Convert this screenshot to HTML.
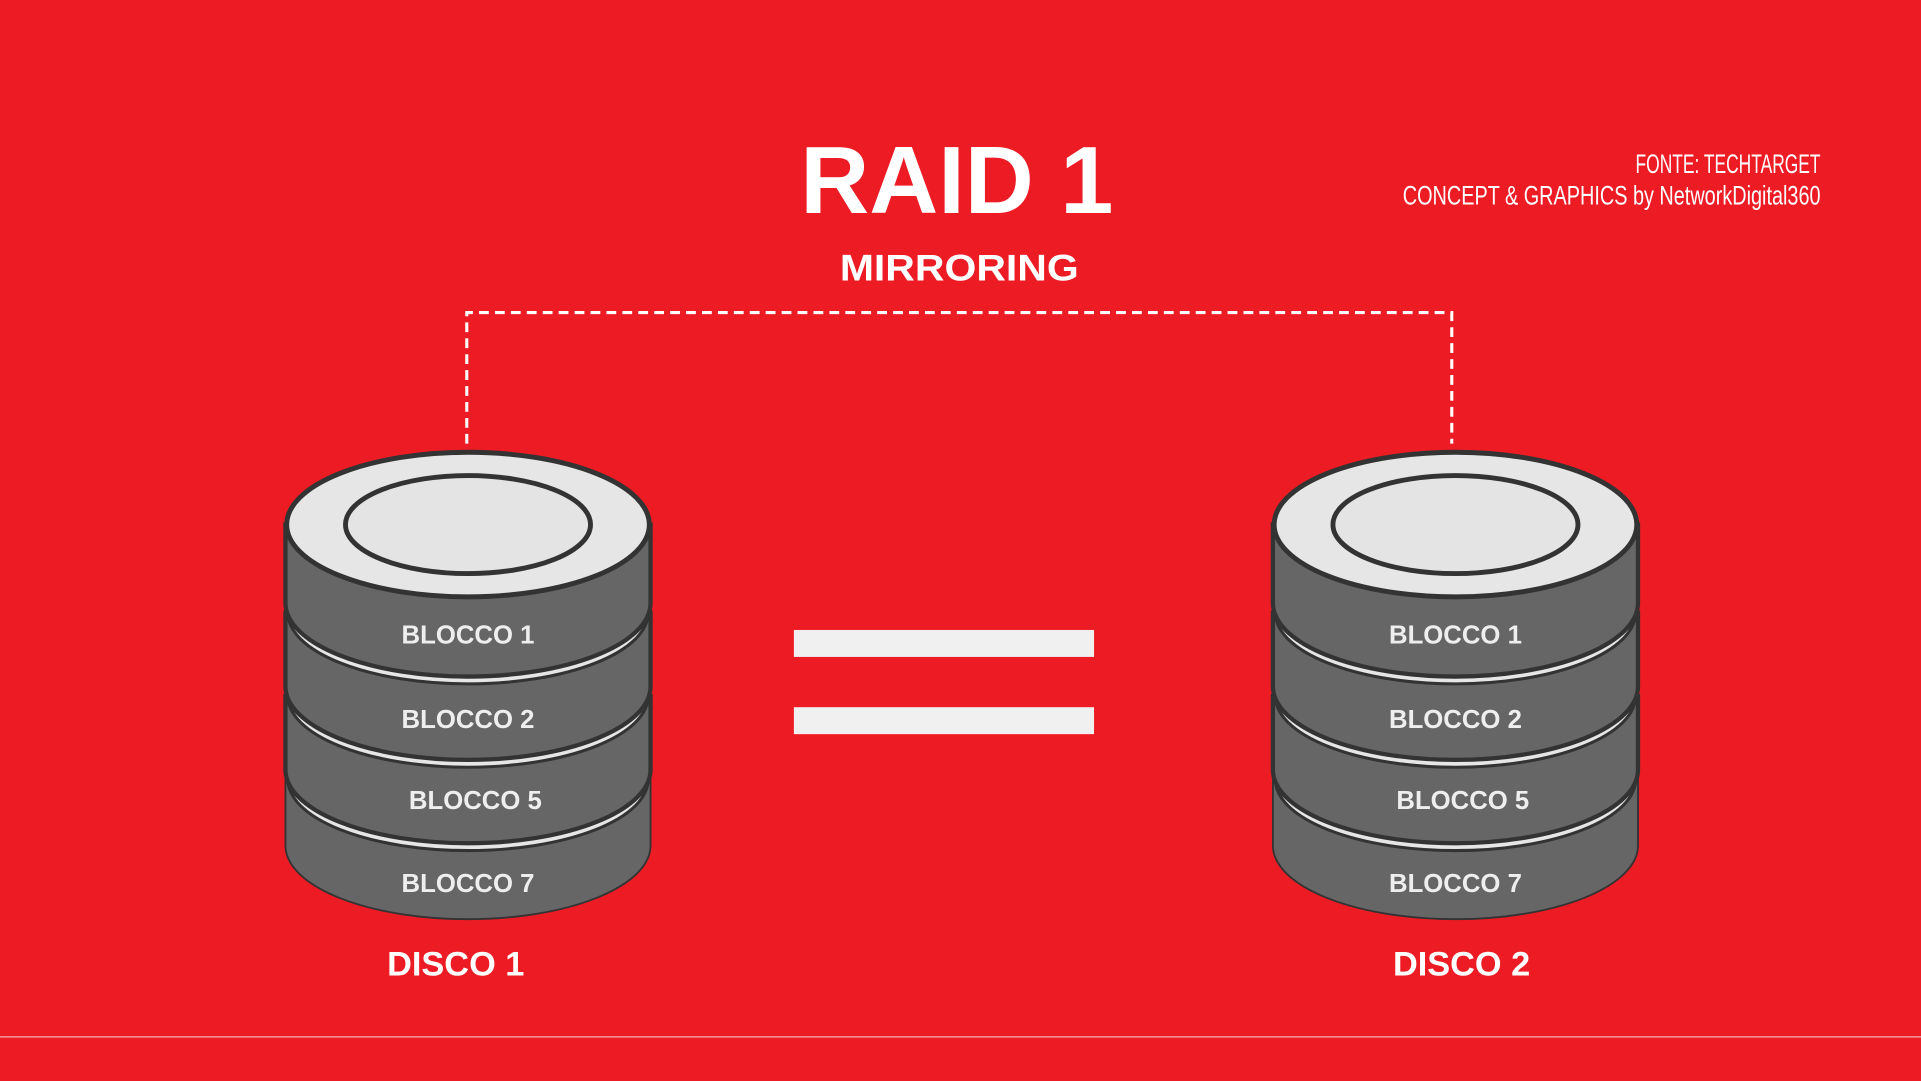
<!DOCTYPE html>
<html><head><meta charset="utf-8"><style>
html,body{margin:0;padding:0;background:#ed1c24;overflow:hidden}
svg{display:block}
text{font-family:"Liberation Sans",Arial,sans-serif}
</style></head><body>
<svg width="1921" height="1081" viewBox="0 0 1568 882" preserveAspectRatio="none" xmlns="http://www.w3.org/2000/svg">
<rect width="1568" height="882" fill="#ed1c24"/>
<line x1="0" y1="846" x2="1568" y2="846" stroke="#f4b0b0" stroke-width="1"/>
<text x="781" y="174" text-anchor="middle" font-size="78" font-weight="bold" fill="#fff">RAID 1</text>
<text x="783" y="229" text-anchor="middle" font-size="30" font-weight="bold" fill="#fff" textLength="195" lengthAdjust="spacingAndGlyphs">MIRRORING</text>
<text x="1486" y="141" text-anchor="end" font-size="22" fill="#fff" textLength="151" lengthAdjust="spacingAndGlyphs">FONTE: TECHTARGET</text>
<text x="1486" y="167" text-anchor="end" font-size="22" fill="#fff" textLength="341" lengthAdjust="spacingAndGlyphs">CONCEPT &amp; GRAPHICS by NetworkDigital360</text>
<path d="M381 362 V255 H1185 V362" fill="none" stroke="#fff" stroke-width="2.5" stroke-dasharray="8,5"/>
<rect x="648" y="514" width="245" height="22" fill="#f0f0f0"/>
<rect x="648" y="577" width="245" height="22" fill="#f0f0f0"/>
<g id="d1">
<path d="M233 636 V690 A149 60 0 0 0 531 690 V636 Z" fill="#666" stroke="#333" stroke-width="1.5"/>
<ellipse cx="382" cy="636" rx="147" ry="58" fill="#e6e6e6" stroke="#333" stroke-width="2.5"/>
<path d="M233 568 V628 A149 60 0 0 0 531 628 V568 Z" fill="#666" stroke="#333" stroke-width="3.5"/>
<ellipse cx="382" cy="568" rx="147" ry="58" fill="#e6e6e6" stroke="#333" stroke-width="2.5"/>
<path d="M233 500 V560 A149 60 0 0 0 531 560 V500 Z" fill="#666" stroke="#333" stroke-width="3.5"/>
<ellipse cx="382" cy="500" rx="147" ry="58" fill="#e6e6e6" stroke="#333" stroke-width="2.5"/>
<path d="M233 428 V492 A149 60 0 0 0 531 492 V428 Z" fill="#666" stroke="#333" stroke-width="3.5"/>
<ellipse cx="382" cy="428" rx="148" ry="59" fill="#e6e6e6" stroke="#333" stroke-width="4"/>
<ellipse cx="382" cy="428" rx="100" ry="40" fill="#e4e4e4" stroke="#333" stroke-width="4"/>
<g font-size="21" font-weight="bold" fill="#eee" text-anchor="middle">
<text x="382" y="525">BLOCCO 1</text>
<text x="382" y="594">BLOCCO 2</text>
<text x="388" y="660">BLOCCO 5</text>
<text x="382" y="728">BLOCCO 7</text>
</g>
</g>
<use href="#d1" transform="translate(806,0)"/>
<text x="372" y="796" text-anchor="middle" font-size="28" font-weight="bold" fill="#fff">DISCO 1</text>
<text x="1193" y="796" text-anchor="middle" font-size="28" font-weight="bold" fill="#fff">DISCO 2</text>
</svg>
</body></html>
